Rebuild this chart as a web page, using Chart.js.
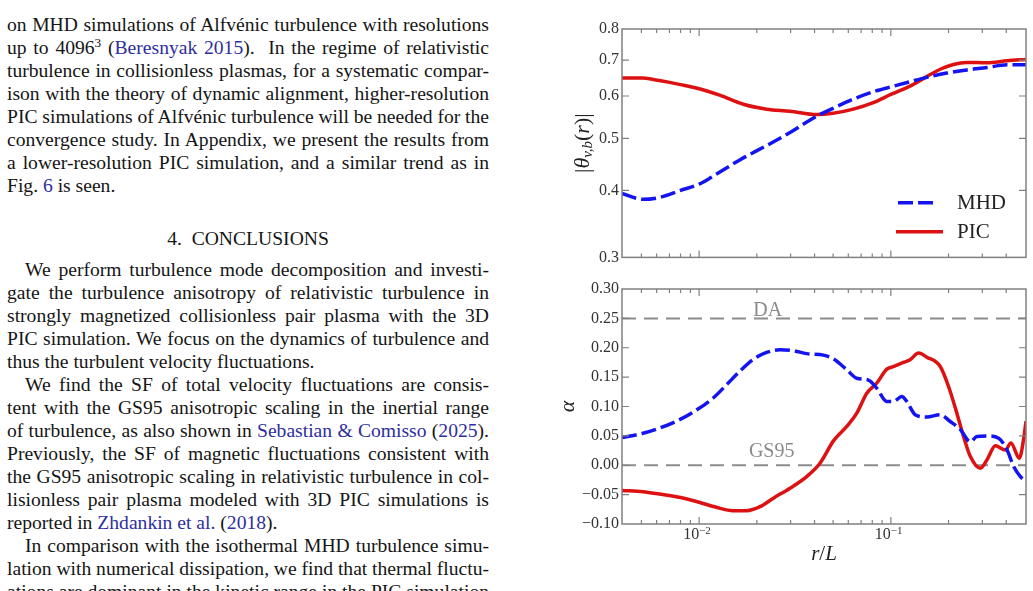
<!DOCTYPE html>
<html>
<head>
<meta charset="utf-8">
<script src="https://cdn.jsdelivr.net/npm/chart.js@4.4.1/dist/chart.umd.min.js"></script>
<style>
  html, body { margin: 0; padding: 0; background: #fff; }
  body { width: 1033px; height: 591px; overflow: hidden; position: relative; }
  .col {
    position: absolute; left: 7px; width: 482px;
    font-family: 'Liberation Serif', 'Times New Roman', serif;
    font-size: 19.6px; line-height: 23px; color: #151515;
  }
  .col div { text-align: justify; text-align-last: justify; word-spacing: -3px; height: 23px; }
  .col div.end { text-align: left; text-align-last: left; word-spacing: 0; }
  .col div.ind { padding-left: 18px; }
  .col a { color: #2e2e9e; text-decoration: none; }
  .col .sup { font-size: 0.68em; vertical-align: 0.5em; line-height: 0; }
  .head { position: absolute; left: 7px; width: 482px; top: 227px; text-align: center;
    font-family: 'Liberation Serif', 'Times New Roman', serif; font-size: 19.6px; line-height: 23px; color: #151515; }
  .box { position: absolute; left: 540px; width: 493px; }
  #boxTop { top: 0; height: 270px; }
  #boxBot { top: 270px; height: 321px; }
</style>
</head>
<body>

<div class="col" style="top:13px">
  <div>on MHD simulations of Alfvénic turbulence with resolutions</div>
  <div>up to 4096<span class="sup">3</span> (<a>Beresnyak 2015</a>). &nbsp;In the regime of relativistic</div>
  <div>turbulence in collisionless plasmas, for a systematic compar-</div>
  <div>ison with the theory of dynamic alignment, higher-resolution</div>
  <div>PIC simulations of Alfvénic turbulence will be needed for the</div>
  <div>convergence study. In Appendix, we present the results from</div>
  <div>a lower-resolution PIC simulation, and a similar trend as in</div>
  <div class="end">Fig. <a>6</a> is seen.</div>
</div>

<div class="head">4. &nbsp;CONCLUSIONS</div>

<div class="col" style="top:258px">
  <div class="ind">We perform turbulence mode decomposition and investi-</div>
  <div>gate the turbulence anisotropy of relativistic turbulence in</div>
  <div>strongly magnetized collisionless pair plasma with the 3D</div>
  <div>PIC simulation. We focus on the dynamics of turbulence and</div>
  <div class="end">thus the turbulent velocity fluctuations.</div>
  <div class="ind">We find the SF of total velocity fluctuations are consis-</div>
  <div>tent with the GS95 anisotropic scaling in the inertial range</div>
  <div>of turbulence, as also shown in <a>Sebastian &amp; Comisso</a> (<a>2025</a>).</div>
  <div>Previously, the SF of magnetic fluctuations consistent with</div>
  <div>the GS95 anisotropic scaling in relativistic turbulence in col-</div>
  <div>lisionless pair plasma modeled with 3D PIC simulations is</div>
  <div class="end">reported in <a>Zhdankin et al.</a> (<a>2018</a>).</div>
  <div class="ind">In comparison with the isothermal MHD turbulence simu-</div>
  <div>lation with numerical dissipation, we find that thermal fluctu-</div>
  <div>ations are dominant in the kinetic range in the PIC simulation</div>
</div>

<div class="box" id="boxTop"><canvas id="thetaChart"></canvas></div>
<div class="box" id="boxBot"><canvas id="alphaChart"></canvas></div>

<script>
Chart.defaults.font.family = "'Liberation Serif', 'Times New Roman', serif";
Chart.defaults.color = '#333';

// r/L axis (shared)
const rRange = [0.00396, 0.507];
const rMajor = [0.01, 0.1];
const rMajorExp = ['\u22122', '\u22121'];
const rMinor = [0.005, 0.006, 0.007, 0.008, 0.009, 0.02, 0.03, 0.04, 0.05, 0.06, 0.07, 0.08, 0.09, 0.2, 0.3, 0.4];

const thetaTicks = [0.3, 0.4, 0.5, 0.6, 0.7, 0.8];
const alphaTicks = [-0.10, -0.05, 0.00, 0.05, 0.10, 0.15, 0.20, 0.25, 0.30];

const names = ['MHD', 'PIC'];
const colors = ['#1414f0', '#dd1111'];

// top panel: |theta_vb(r)|
const thetaMhdR = [0.00396, 0.0051, 0.0062, 0.008, 0.01, 0.0118, 0.0163, 0.0225, 0.0298, 0.041, 0.05, 0.0637, 0.081, 0.1, 0.126, 0.154, 0.196, 0.249, 0.317, 0.404, 0.507];
const thetaMhd  = [0.395, 0.385, 0.388, 0.400, 0.411, 0.425, 0.456, 0.485, 0.513, 0.550, 0.569, 0.592, 0.611, 0.624, 0.638, 0.650, 0.662, 0.671, 0.678, 0.686, 0.686];
const thetaPicR = [0.00396, 0.0051, 0.0062, 0.008, 0.01, 0.0128, 0.017, 0.0225, 0.0298, 0.041, 0.05, 0.0637, 0.081, 0.1, 0.126, 0.154, 0.181, 0.212, 0.249, 0.317, 0.404, 0.507];
const thetaPic  = [0.648, 0.648, 0.641, 0.630, 0.619, 0.602, 0.579, 0.567, 0.562, 0.554, 0.557, 0.567, 0.583, 0.604, 0.626, 0.652, 0.673, 0.687, 0.693, 0.692, 0.698, 0.702];

// bottom panel: alpha
const alphaMhdR = [0.00396, 0.0051, 0.0062, 0.008, 0.01, 0.0118, 0.0139, 0.0163, 0.0191, 0.0225, 0.0264, 0.031, 0.0364, 0.0445, 0.0502, 0.0589, 0.0664, 0.0764, 0.0845, 0.0953, 0.1032, 0.1141, 0.1212, 0.134, 0.154, 0.181, 0.204, 0.230, 0.260, 0.281, 0.317, 0.365, 0.404, 0.437, 0.473, 0.507];
const alphaMhd  = [0.047, 0.0545, 0.063, 0.0784, 0.097, 0.114, 0.137, 0.160, 0.180, 0.192, 0.1966, 0.195, 0.190, 0.1875, 0.181, 0.1625, 0.148, 0.145, 0.131, 0.1085, 0.1085, 0.117, 0.1085, 0.086, 0.082, 0.086, 0.0744, 0.0614, 0.040, 0.049, 0.050, 0.046, 0.026, -0.002, -0.019, -0.028];
const alphaPicR = [0.00396, 0.0051, 0.0062, 0.008, 0.01, 0.0123, 0.015, 0.0177, 0.0208, 0.0244, 0.0298, 0.0364, 0.0427, 0.0502, 0.0589, 0.0664, 0.0749, 0.0845, 0.0953, 0.1032, 0.1164, 0.1261, 0.1395, 0.1541, 0.181, 0.200, 0.221, 0.2395, 0.260, 0.293, 0.317, 0.351, 0.396, 0.423, 0.468, 0.493, 0.507];
const alphaPic  = [-0.043, -0.045, -0.049, -0.055, -0.063, -0.0716, -0.0773, -0.0773, -0.0705, -0.056, -0.039, -0.0193, 0.0034, 0.0415, 0.066, 0.0886, 0.1227, 0.140, 0.1636, 0.168, 0.175, 0.1795, 0.191, 0.184, 0.168, 0.134, 0.0886, 0.049, 0.0148, -0.005, 0.0091, 0.033, 0.026, 0.038, 0.012, 0.045, 0.075];

// reference scalings
const refNames = ['DA', 'GS95'];
const refAlpha = [0.25, 0.0];

const pts = (xs, ys) => xs.map((r, i) => ({ x: r, y: ys[i] }));
const serif = "'Liberation Serif', 'Times New Roman', serif";

function curve(i, xs, ys) {
  return {
    label: names[i],
    data: pts(xs, ys),
    borderColor: colors[i],
    borderWidth: 3.5,
    borderDash: i === 0 ? [15, 5] : [],
    pointRadius: 0,
    cubicInterpolationMode: 'monotone',
    fill: false
  };
}

// draws a run of text pieces (for sub/superscripts), optionally rotated
function drawPieces(ctx, pieces, cx, cy, rot) {
  ctx.save();
  let total = 0;
  pieces.forEach(p => { ctx.font = p.f + ' ' + serif; p.w = ctx.measureText(p.t).width; total += p.w; });
  ctx.translate(cx, cy);
  if (rot) ctx.rotate(-Math.PI / 2);
  ctx.fillStyle = '#222';
  ctx.textBaseline = 'middle';
  ctx.textAlign = 'left';
  let x = -total / 2;
  pieces.forEach(p => {
    ctx.font = p.f + ' ' + serif;
    ctx.fillText(p.t, x, p.dy || 0);
    x += p.w;
  });
  ctx.restore();
}

function makeFrame(cfg) {
  return {
    id: 'axisFrame',
    afterDatasetsDraw(chart) {
      const { ctx, chartArea: a } = chart;
      const xs = chart.scales.x, ys = chart.scales.y;
      ctx.save();
      ctx.strokeStyle = '#808080';
      ctx.lineWidth = 1.5;
      ctx.strokeRect(a.left, a.top, a.right - a.left, a.bottom - a.top);
      ctx.lineWidth = 1.2;
      const vt = (v, len) => {
        const p = xs.getPixelForValue(v);
        ctx.beginPath();
        ctx.moveTo(p, a.bottom); ctx.lineTo(p, a.bottom - len);
        ctx.moveTo(p, a.top); ctx.lineTo(p, a.top + len);
        ctx.stroke();
      };
      rMajor.forEach(v => vt(v, 7));
      rMinor.forEach(v => vt(v, 4));
      cfg.yTicks.slice(1, -1).forEach(v => {
        const p = ys.getPixelForValue(v);
        ctx.beginPath();
        ctx.moveTo(a.left, p); ctx.lineTo(a.left + 7, p);
        ctx.moveTo(a.right, p); ctx.lineTo(a.right - 7, p);
        ctx.stroke();
      });

      if (cfg.refs) {
        ctx.fillStyle = '#8a8a8a';
        ctx.font = '20px ' + serif;
        ctx.textAlign = 'center';
        ctx.textBaseline = 'alphabetic';
        refNames.forEach((n, i) => {
          ctx.fillText(n, xs.getPixelForValue(cfg.refs.at[i]), ys.getPixelForValue(refAlpha[i]) - cfg.refs.lift[i]);
        });
      }
      ctx.restore();
    },
    afterDraw(chart) {
      const { ctx, chartArea: a } = chart;
      const xs = chart.scales.x;
      const midY = (a.top + a.bottom) / 2;
      drawPieces(ctx, cfg.yTitle, a.left + cfg.yTitleDx, midY, true);

      if (cfg.xLabels) {
        ctx.save();
        ctx.fillStyle = '#333';
        ctx.textBaseline = 'alphabetic';
        ctx.textAlign = 'left';
        rMajor.forEach((v, i) => {
          const p = xs.getPixelForValue(v);
          ctx.font = '16px ' + serif;
          const w1 = ctx.measureText('10').width;
          ctx.fillText('10', p - w1, a.bottom + 14.5);
          ctx.font = '11px ' + serif;
          ctx.fillText(rMajorExp[i], p, a.bottom + 9.5);
        });
        ctx.restore();
        drawPieces(ctx, [
          { t: 'r', f: 'italic 21px' },
          { t: '/', f: '21px' },
          { t: 'L', f: 'italic 21px' }
        ], (a.left + a.right) / 2, a.bottom + 30, false);
      }

      if (cfg.legend) {
        ctx.save();
        chart.data.datasets.forEach((ds, i) => {
          const y = a.top + cfg.legend.dy[i];
          ctx.strokeStyle = ds.borderColor;
          ctx.lineWidth = 3.5;
          ctx.setLineDash(ds.borderDash);
          ctx.beginPath();
          ctx.moveTo(a.left + cfg.legend.x0[i], y);
          ctx.lineTo(a.left + cfg.legend.x1[i], y);
          ctx.stroke();
          ctx.setLineDash([]);
          ctx.fillStyle = '#222';
          ctx.font = '21px ' + serif;
          ctx.textBaseline = 'middle';
          ctx.textAlign = 'left';
          ctx.fillText(ds.label, a.left + cfg.legend.tx, y + 1);
        });
        ctx.restore();
      }
    }
  };
}

function xAxis(h) {
  return {
    type: 'logarithmic',
    min: rRange[0], max: rRange[1],
    ticks: { display: false },
    grid: { display: false, drawTicks: false },
    border: { display: false },
    afterFit: s => { s.height = h; }
  };
}

function yAxis(type, range, ticks, fmt) {
  return {
    type: type,
    min: range[0], max: range[1],
    afterBuildTicks: s => { s.ticks = ticks.map(v => ({ value: v })); },
    ticks: { font: { size: 16 }, color: '#333', padding: 3, callback: fmt },
    grid: { display: false, drawTicks: false },
    border: { display: false },
    afterFit: s => { s.width = 82; }
  };
}

const common = {
  responsive: true,
  maintainAspectRatio: false,
  animation: false,
  plugins: { legend: { display: false }, tooltip: { enabled: false } }
};

new Chart(document.getElementById('thetaChart'), {
  type: 'line',
  data: { datasets: [curve(0, thetaMhdR, thetaMhd), curve(1, thetaPicR, thetaPic)] },
  options: Object.assign({}, common, {
    layout: { padding: { top: 29, right: 7, left: 0, bottom: 0 } },
    scales: {
      x: xAxis(7),
      y: yAxis('logarithmic', [0.3, 0.8], thetaTicks, v => Number(v).toFixed(1))
    }
  }),
  plugins: [makeFrame({
    yTicks: thetaTicks,
    yTitleDx: -38.5,
    yTitle: [
      { t: '|', f: '22px' },
      { t: '\u03B8', f: 'italic 22px' },
      { t: 'v,b', f: 'italic 15px', dy: 5 },
      { t: '(', f: '22px' },
      { t: 'r', f: 'italic 22px' },
      { t: ')|', f: '22px' }
    ],
    legend: { dy: [173.7, 202.7], x0: [276, 274], x1: [315, 321], tx: 335 }
  })]
});

const refSets = refNames.map((n, i) => ({
  label: n,
  data: pts(rRange, [refAlpha[i], refAlpha[i]]),
  borderColor: '#8c8c8c',
  borderWidth: 2,
  borderDash: [14, 8],
  pointRadius: 0
}));

new Chart(document.getElementById('alphaChart'), {
  type: 'line',
  data: { datasets: [curve(0, alphaMhdR, alphaMhd), curve(1, alphaPicR, alphaPic)].concat(refSets) },
  options: Object.assign({}, common, {
    layout: { padding: { top: 19, right: 7, left: 0, bottom: 0 } },
    scales: {
      x: xAxis(67),
      y: yAxis('linear', [-0.10, 0.30], alphaTicks,
        v => (v < -1e-9 ? '\u2212' : '') + Math.abs(v).toFixed(2))
    }
  }),
  plugins: [makeFrame({
    yTicks: alphaTicks,
    yTitleDx: -54,
    yTitle: [{ t: '\u03B1', f: 'italic 22px' }],
    xLabels: true,
    refs: { at: [0.0228, 0.0239], lift: [2, 8.5] }
  })]
});
</script>
</body>
</html>
